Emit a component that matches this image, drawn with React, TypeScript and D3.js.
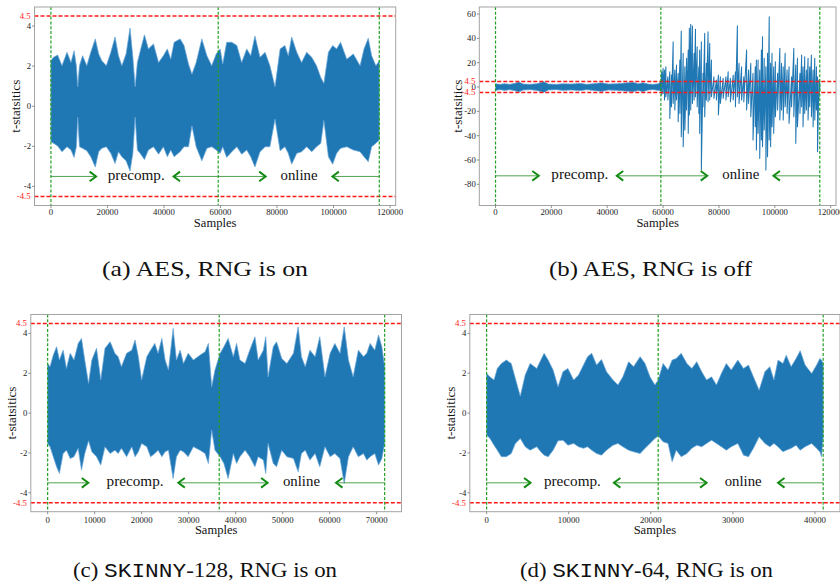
import React, { useEffect } from "react";
import * as d3 from "d3";

// ---------- (a) AES, RNG on ----------
const aesOnSamples = [0, 900, 2400, 3900, 5700, 7100, 8200, 9000, 9500, 10100, 11200, 12700, 14100, 15700, 16900, 18000, 19600, 21200, 22700, 23900, 25100, 26600, 28000, 29000, 29800, 30600, 31800, 33100, 34500, 36300, 38100, 39800, 41200, 42400, 43600, 45700, 47100, 48700, 49900, 51400, 53400, 55200, 56900, 58500, 59900, 60800, 62200, 64000, 65800, 67500, 69300, 70700, 72200, 74000, 75800, 77500, 79300, 81100, 82800, 84000, 85200, 87000, 88700, 90500, 92300, 94000, 95500, 96600, 98200, 99700, 101100, 102500, 104700, 107000, 109400, 110800, 112300, 113500, 115000, 116200];
const aesOnUpper = [2.27, 2.44, 2.55, 2.02, 2.69, 2.18, 2.77, 2.02, 0.97, 2.02, 2.52, 2.02, 2.69, 3.36, 2.61, 2.27, 2.02, 2.69, 3.45, 2.52, 2.02, 2.61, 3.9, 2.44, 0.97, 2.18, 2.86, 3.56, 2.86, 3.11, 2.18, 2.52, 2.86, 2.35, 3.19, 3.36, 3.03, 2.1, 1.6, 2.18, 3.36, 2.52, 2.02, 2.61, 2.86, 2.1, 3.19, 3.19, 3.03, 2.18, 2.86, 2.52, 3.5, 2.44, 2.69, 2.02, 0.97, 2.86, 3.03, 2.52, 3.45, 2.69, 2.18, 2.69, 2.44, 2.02, 1.43, 1.14, 2.69, 3.03, 2.86, 3.19, 2.35, 2.61, 2.02, 2.86, 3.39, 2.52, 2.02, 2.27];
const aesOnLower = [-1.76, -1.85, -1.98, -2.27, -2.02, -2.18, -2.55, -2.02, -0.54, -2.02, -2.1, -2.22, -2.52, -3.03, -2.27, -2.1, -2.02, -2.35, -2.86, -2.27, -2.52, -2.72, -3.23, -2.35, -0.54, -2.18, -2.39, -2.66, -2.18, -2.02, -2.39, -2.02, -2.52, -2.18, -2.52, -2.27, -2.02, -2.02, -0.97, -2.02, -2.72, -2.1, -2.02, -2.18, -2.35, -2.02, -2.55, -2.27, -2.02, -2.39, -2.18, -2.52, -3.03, -2.27, -2.02, -2.02, -0.64, -2.22, -2.02, -2.35, -2.89, -2.35, -2.27, -2.02, -2.27, -2.02, -1.85, -0.71, -2.52, -2.89, -2.35, -2.1, -2.02, -2.18, -2.27, -2.52, -2.77, -2.02, -1.85, -1.68];
const aesOnPhases = [0, 59200, 116200];
const aesOnArrowMarks = [16000, 30200, 43400, 76000, 87800, 99600];

// ---------- (b) AES, RNG off ----------
// the first 27 points cover the precomputation band, the rest the online spikes
const aesOffSamples = [0, 1600, 3300, 5100, 6900, 8400, 9900, 12300, 14700, 17300, 18900, 21900, 24200, 27200, 30200, 32600, 35000, 38000, 40400, 43400, 46300, 49300, 51100, 52700, 54700, 56500, 58300,
  59100, 59500, 60000, 60500, 61000, 61700, 62400, 63000, 63600, 64200, 64800, 65400, 66000, 66500, 67200, 67800, 68400, 69000, 69400, 69900, 70500, 71100, 71600, 72200, 72800, 73100, 73700, 74300, 74900, 75500, 76100, 76700, 77300, 78200, 79100, 79800, 80500, 81500, 82500, 83300, 84100, 85100, 85900, 86600, 87200, 88100, 88900, 89900, 90600, 91400, 92200, 93000, 93400, 94000, 94600, 95200, 95600, 96200, 96800, 97400, 98000, 98500, 99000, 99600, 100200, 101000, 101800, 102400, 103000, 103700, 104400, 105100, 106000, 106800, 107500, 108100, 109000, 109600, 110100, 110700, 111300, 111900, 112500, 113100, 113700, 114300, 114900, 115300, 115800, 116100];
const aesOffUpper = [2.75, 2.2, 2.75, 2.2, 3.03, 4.13, 2.48, 2.2, 2.75, 4.4, 2.48, 2.2, 2.75, 2.48, 3.03, 2.2, 2.75, 3.58, 2.48, 2.75, 3.3, 3.85, 2.75, 3.58, 2.48, 2.2, 2.75,
  4.38, 12.6, 15.35, 13.97, 16.71, 8.49, 12.6, 9.86, 37.27, 13.97, 18.08, 11.23, 22.2, 46.03, 27.68, 16.71, 23.57, 30.42, 48.23, 51.52, 50.15, 27.68, 47.41, 33.16, 16.71, 30.42, 37.27, 11.23, 44.12, 19.45, 45.49, 35.9, 22.2, 8.49, 5.75, 9.86, 8.49, 7.12, 8.49, 12.6, 7.12, 9.86, 12.6, 50.42, 19.45, 16.71, 8.49, 30.42, 13.97, 19.45, 11.23, 16.71, 22.2, 22.2, 13.97, 30.42, 41.38, 23.57, 16.71, 27.68, 57.82, 19.45, 27.68, 16.71, 20.82, 11.23, 31.79, 19.45, 16.71, 27.68, 13.97, 16.71, 8.49, 31.79, 18.08, 23.57, 11.23, 26.31, 16.71, 24.93, 13.97, 23.57, 16.71, 26.31, 13.97, 23.57, 16.71, 8.49, 5.75, 4.38];
const aesOffLower = [-2.75, -2.2, -2.75, -2.2, -3.03, -4.13, -2.48, -2.2, -2.75, -4.4, -2.48, -2.2, -2.75, -2.48, -3.03, -2.2, -2.75, -3.58, -2.48, -2.75, -3.3, -3.85, -2.75, -3.85, -2.48, -2.2, -2.75,
  -3.02, -6.58, -5.21, -10.69, -7.95, -10.69, -25.76, -16.17, -13.43, -18.91, -10.69, -28.5, -21.65, -40.83, -49.05, -35.35, -18.91, -38.09, -23.02, -18.91, -13.43, -10.69, -7.95, -16.17, -21.65, -38.09, -68.23, -16.17, -24.39, -10.69, -12.06, -10.69, -7.95, -9.32, -10.69, -23.02, -13.43, -9.32, -10.69, -7.95, -12.06, -10.69, -16.17, -7.95, -13.43, -10.69, -12.06, -18.91, -13.43, -24.39, -43.57, -32.61, -51.79, -38.09, -58.64, -43.57, -49.05, -35.35, -68.23, -57.27, -43.57, -49.05, -32.61, -38.09, -24.39, -18.91, -27.13, -18.91, -27.13, -16.17, -21.65, -29.87, -16.17, -24.39, -46.31, -32.61, -21.65, -16.17, -32.61, -21.65, -18.91, -27.13, -16.17, -24.39, -32.61, -27.13, -18.91, -53.16, -10.69, -3.84];
const aesOffPhases = [0, 59200, 116100];
const aesOffArrowMarks = [15500, 30200, 43400, 75800, 87800, 99500];
const aesOffOnlineStart = 27;

// ---------- (c) SKINNY-128, RNG on ----------
const skinny128Samples = [0, 500, 1200, 1900, 2500, 3300, 4000, 4800, 5600, 6500, 7200, 7900, 8700, 9400, 10400, 11300, 12200, 13300, 14300, 15000, 15700, 16800, 17900, 18600, 19300, 20000, 21100, 21900, 22800, 23500, 24300, 25000, 25700, 26700, 27400, 28200, 28900, 29900, 31000, 32400, 33500, 34200, 34900, 35600, 36700, 37500, 38400, 39500, 40200, 40900, 42000, 43000, 44100, 44800, 45900, 46400, 46900, 48000, 48700, 49800, 50900, 52300, 53300, 54000, 54800, 55800, 56900, 57900, 59000, 60100, 61100, 62200, 63100, 64000, 65000, 66100, 67200, 67900, 68600, 69600, 70400, 71100, 71700];
const skinny128Upper = [2.49, 2.33, 2.91, 3.33, 2.66, 3.16, 2.24, 3.0, 2.66, 3.5, 3.75, 2.66, 1.49, 2.66, 3.25, 1.66, 3.25, 3.58, 3.0, 2.83, 2.33, 3.0, 3.16, 3.67, 2.83, 1.66, 2.83, 3.16, 3.5, 3.0, 3.75, 2.66, 2.16, 4.25, 2.66, 3.16, 2.49, 3.0, 2.66, 2.91, 3.08, 3.5, 1.32, 2.16, 3.0, 3.33, 3.75, 2.83, 3.5, 2.66, 2.49, 3.16, 3.83, 2.66, 3.16, 3.83, 1.82, 3.33, 3.58, 2.74, 2.49, 3.0, 4.33, 2.83, 2.33, 3.16, 2.83, 3.83, 1.82, 3.0, 3.5, 3.0, 4.33, 2.66, 1.82, 3.16, 2.83, 3.0, 3.5, 3.16, 3.92, 3.33, 2.33];
const skinny128Lower = [-1.52, -1.69, -2.19, -2.69, -3.03, -2.03, -1.86, -2.28, -2.19, -1.77, -2.86, -2.03, -1.39, -1.94, -2.19, -2.61, -1.69, -2.03, -1.86, -2.03, -1.77, -2.19, -1.69, -2.19, -1.94, -1.52, -1.69, -2.19, -2.03, -1.86, -2.19, -1.94, -1.86, -3.28, -2.19, -1.86, -1.94, -2.19, -1.69, -1.86, -2.03, -2.53, -0.85, -1.86, -2.19, -2.53, -3.28, -2.03, -2.53, -2.19, -1.86, -2.19, -2.69, -2.19, -2.36, -3.03, -1.52, -2.53, -2.69, -1.86, -2.19, -2.28, -2.95, -2.03, -1.86, -2.36, -2.03, -2.69, -1.69, -2.19, -2.03, -2.28, -3.53, -2.19, -1.69, -2.19, -2.03, -2.36, -2.19, -2.03, -2.61, -2.28, -1.52];
const skinny128Phases = [0, 36500, 71700];
const skinny128ArrowMarks = [8650, 18600, 27800, 46800, 54000, 61350];

// ---------- (d) SKINNY-64, RNG on ----------
const skinny64Samples = [0, 400, 900, 1300, 1800, 2400, 3000, 3500, 4100, 4700, 5300, 6100, 6600, 7000, 7500, 8100, 8700, 9300, 9900, 10600, 11200, 11800, 12300, 12800, 13400, 14000, 14600, 15400, 16000, 16600, 17300, 17900, 18700, 19300, 19900, 20500, 20900, 21500, 22100, 22600, 23100, 23700, 24400, 25000, 25600, 26200, 26800, 27400, 28000, 28600, 29200, 29800, 30600, 31300, 31900, 32500, 33200, 33900, 34500, 35000, 35500, 36100, 36500, 37100, 37700, 38200, 38800, 39600, 40200, 40600, 40800, 41000];
const skinny64Upper = [1.99, 1.82, 1.66, 2.24, 2.49, 2.66, 2.49, 1.74, 0.85, 1.91, 2.49, 2.24, 2.66, 3.0, 2.66, 2.16, 1.32, 2.08, 2.24, 1.66, 1.91, 2.41, 2.83, 3.0, 2.41, 2.69, 2.08, 1.66, 1.41, 1.82, 2.58, 2.33, 2.83, 2.49, 1.82, 1.41, 1.66, 2.49, 2.16, 2.66, 2.74, 3.0, 2.49, 2.24, 2.58, 2.08, 1.66, 1.82, 1.41, 1.99, 2.49, 2.16, 2.66, 2.24, 2.41, 1.82, 1.15, 2.08, 2.33, 1.66, 2.66, 2.49, 2.91, 2.33, 2.74, 3.13, 2.41, 1.99, 2.41, 2.74, 2.66, 2.49];
const skinny64Lower = [-1.1, -1.27, -1.61, -1.86, -2.19, -2.19, -2.03, -1.52, -1.27, -1.69, -1.86, -1.69, -1.94, -2.11, -2.19, -1.86, -1.39, -1.36, -1.61, -1.52, -1.69, -1.77, -1.69, -1.86, -2.03, -2.11, -1.86, -1.61, -1.52, -1.69, -1.86, -1.94, -2.03, -1.77, -1.52, -1.27, -1.15, -1.44, -1.52, -2.44, -1.86, -2.19, -2.03, -1.77, -1.61, -1.69, -1.52, -1.36, -1.52, -1.69, -1.86, -1.69, -1.52, -2.11, -2.19, -1.77, -1.19, -1.52, -1.69, -1.52, -1.69, -1.94, -1.86, -1.77, -1.61, -1.86, -1.69, -1.52, -1.77, -1.94, -2.19, -1.19];
const skinny64Phases = [0, 20900, 41000];
const skinny64ArrowMarks = [5350, 10450, 15500, 26800, 31250, 35500];

// ---------- axes ----------
const xTicksAes = [0, 20000, 40000, 60000, 80000, 100000, 120000];
const xTicksSkinny128 = [0, 10000, 20000, 30000, 40000, 50000, 60000, 70000];
const xTicksSkinny64 = [0, 10000, 20000, 30000, 40000];
const yTicksSmall = [-4, -2, 0, 2, 4];
const yTicksWide = [-80, -60, -40, -20, 0, 20, 40, 60];
const thresholds = [4.5, -4.5];
const phaseLabels = ["precomp.", "online"];

const SERIF = "'Liberation Serif', 'Times New Roman', serif";
const MONO = "'Liberation Mono', 'DejaVu Sans Mono', monospace";
const BLUE = "#1f77b4";
const GREEN = "#22a022";
const ARROW_GREEN = "#108a10";
const RED = "#ff1a1a";
const FRAME = "#a3a3a3";

type Box = { left: number; right: number; top: number; bottom: number };

type PanelProps = {
  id: string;
  box: Box;
  xDomain: [number, number];
  yDomain: [number, number];
  xTicks: number[];
  yTicks: number[];
  samples: number[];
  upper: number[];
  lower: number[];
  phases: number[];
  marks: number[];
  arrowY: number;
  xTickBaseline: number;
  xTitleBaseline: number;
  yTitleX: number;
  // index from which the trace is drawn as individual min/max strokes instead of a band
  strokeFrom?: number;
};

const fmt = (t: number) => (t < 0 ? `-${Math.abs(t)}` : `${t}`);

function Panel(p: PanelProps) {
  const { box } = p;
  const x = d3.scaleLinear().domain(p.xDomain).range([box.left, box.right]);
  const y = d3.scaleLinear().domain(p.yDomain).range([box.bottom, box.top]);
  const n = p.samples.length;
  const split = p.strokeFrom ?? n;

  const idx = d3.range(Math.min(split + 1, n));
  const band = d3
    .area<number>()
    .x((i) => x(p.samples[i]))
    .y0((i) => y(p.lower[i]))
    .y1((i) => y(p.upper[i]));

  // min/max strokes: vertical extent at each sample, joined to the next sample
  const strokePts: [number, number][] = [];
  for (let i = split; i < n; i++) {
    strokePts.push([x(p.samples[i]), y(p.upper[i])]);
    strokePts.push([x(p.samples[i]), y(p.lower[i])]);
  }
  const strokeLine = d3.line();

  const ay = y(p.arrowY);
  const [start, , end] = p.phases;
  const [tip1, label1, tip2a, tip2b, label2, tip3] = p.marks;
  const head = (tx: number, dir: number) =>
    `M${tx - dir * 6.5},${ay - 4.8}L${tx},${ay}L${tx - dir * 6.5},${ay + 4.8}`;
  const midY = (box.top + box.bottom) / 2;
  const midX = (box.left + box.right) / 2;

  return (
    <g>
      <defs>
        <clipPath id={`clip-${p.id}`}>
          <rect x={box.left} y={box.top} width={box.right - box.left} height={box.bottom - box.top} />
        </clipPath>
      </defs>

      <g clipPath={`url(#clip-${p.id})`}>
        <path d={band(idx) ?? ""} fill={BLUE} stroke="#6aa6d8" strokeWidth={0.7} strokeLinejoin="round" />
        {strokePts.length > 1 && (
          <path d={strokeLine(strokePts) ?? ""} fill="none" stroke={BLUE} strokeWidth={1.05} strokeLinejoin="round" />
        )}
      </g>

      {thresholds.map((t) => (
        <line key={`th${t}`} x1={box.left} x2={box.right} y1={y(t)} y2={y(t)} stroke={RED} strokeWidth={1.4} strokeDasharray="4,2" />
      ))}

      {p.phases.map((s) => (
        <line key={`ph${s}`} x1={x(s)} x2={x(s)} y1={box.top} y2={box.bottom} stroke={GREEN} strokeWidth={1.2} strokeDasharray="3,1.8" />
      ))}

      {/* phase arrows */}
      <g fill="none">
        <line x1={x(start)} x2={x(tip1)} y1={ay} y2={ay} stroke="#3a9a3a" strokeWidth={0.9} />
        <path d={head(x(tip1), 1)} stroke={ARROW_GREEN} strokeWidth={1.9} />
        <line x1={x(tip2a)} x2={x(tip2b)} y1={ay} y2={ay} stroke="#3a9a3a" strokeWidth={0.9} />
        <path d={head(x(tip2a), -1)} stroke={ARROW_GREEN} strokeWidth={1.9} />
        <path d={head(x(tip2b), 1)} stroke={ARROW_GREEN} strokeWidth={1.9} />
        <line x1={x(tip3)} x2={x(end)} y1={ay} y2={ay} stroke="#3a9a3a" strokeWidth={0.9} />
        <path d={head(x(tip3), -1)} stroke={ARROW_GREEN} strokeWidth={1.9} />
      </g>
      <text x={x(label1)} y={ay + 3.5} textAnchor="middle" fontFamily={SERIF} fontSize={15} fill="#111" textLength={57} lengthAdjust="spacingAndGlyphs">
        {phaseLabels[0]}
      </text>
      <text x={x(label2)} y={ay + 3.5} textAnchor="middle" fontFamily={SERIF} fontSize={15} fill="#111" textLength={37} lengthAdjust="spacingAndGlyphs">
        {phaseLabels[1]}
      </text>

      <rect x={box.left} y={box.top} width={box.right - box.left} height={box.bottom - box.top} fill="none" stroke={FRAME} strokeWidth={1} />

      {/* x axis */}
      {p.xTicks.map((t) => (
        <g key={`x${t}`}>
          <line x1={x(t)} x2={x(t)} y1={box.bottom} y2={box.bottom + 2.5} stroke="#777" strokeWidth={0.8} />
          <text x={x(t)} y={p.xTickBaseline} textAnchor="middle" fontFamily={SERIF} fontSize={8.7} fill="#222">
            {t}
          </text>
        </g>
      ))}

      {/* y axis */}
      {p.yTicks.map((t) => (
        <g key={`y${t}`}>
          <line x1={box.left - 2.5} x2={box.left} y1={y(t)} y2={y(t)} stroke="#777" strokeWidth={0.8} />
          <text x={box.left - 3.5} y={y(t)} dy="0.33em" textAnchor="end" fontFamily={SERIF} fontSize={8.7} fill="#222">
            {fmt(t)}
          </text>
        </g>
      ))}
      {thresholds.map((t) => (
        <text key={`tl${t}`} x={box.left - 4} y={y(t)} dy="0.33em" textAnchor="end" fontFamily={SERIF} fontSize={8.7} fill={RED}>
          {fmt(t)}
        </text>
      ))}

      <text x={midX} y={p.xTitleBaseline} textAnchor="middle" fontFamily={SERIF} fontSize={13} fill="#111" textLength={42.5} lengthAdjust="spacingAndGlyphs">
        Samples
      </text>
      <text
        transform={`translate(${p.yTitleX},${midY}) rotate(-90)`}
        textAnchor="middle"
        fontFamily={SERIF}
        fontSize={13}
        fill="#111"
        textLength={53}
        lengthAdjust="spacingAndGlyphs"
      >
        t-statsitics
      </text>
    </g>
  );
}

export default function App() {
  useEffect(() => {
    document.body.style.margin = "0";
  }, []);

  return (
    <svg width={840} height={587} style={{ position: "absolute", left: 0, top: 0, background: "#fff" }}>
      <rect width={840} height={587} fill="#fff" />
      <Panel
        id="a"
        box={{ left: 34.5, right: 395.7, top: 7, bottom: 205.5 }}
        xDomain={[-5810, 122010]}
        yDomain={[-4.95, 4.95]}
        xTicks={xTicksAes}
        yTicks={yTicksSmall}
        samples={aesOnSamples}
        upper={aesOnUpper}
        lower={aesOnLower}
        phases={aesOnPhases}
        marks={aesOnArrowMarks}
        arrowY={-3.5}
        xTickBaseline={215}
        xTitleBaseline={226.5}
        yTitleX={20}
      />
      <Panel
        id="b"
        box={{ left: 479.3, right: 836, top: 7, bottom: 205.5 }}
        xDomain={[-5805, 121905]}
        yDomain={[-97.4, 65.8]}
        xTicks={xTicksAes}
        yTicks={yTicksWide}
        samples={aesOffSamples}
        upper={aesOffUpper}
        lower={aesOffLower}
        phases={aesOffPhases}
        marks={aesOffArrowMarks}
        arrowY={-73}
        xTickBaseline={215}
        xTitleBaseline={226.5}
        yTitleX={461.5}
        strokeFrom={aesOffOnlineStart}
      />
      <Panel
        id="c"
        box={{ left: 30.8, right: 401.5, top: 314.5, bottom: 511.7 }}
        xDomain={[-3585, 75285]}
        yDomain={[-4.95, 4.95]}
        xTicks={xTicksSkinny128}
        yTicks={yTicksSmall}
        samples={skinny128Samples}
        upper={skinny128Upper}
        lower={skinny128Lower}
        phases={skinny128Phases}
        marks={skinny128ArrowMarks}
        arrowY={-3.5}
        xTickBaseline={522.5}
        xTitleBaseline={533.5}
        yTitleX={15.5}
      />
      <Panel
        id="d"
        box={{ left: 469.8, right: 840, top: 314.5, bottom: 511.7 }}
        xDomain={[-2050, 43050]}
        yDomain={[-4.95, 4.95]}
        xTicks={xTicksSkinny64}
        yTicks={yTicksSmall}
        samples={skinny64Samples}
        upper={skinny64Upper}
        lower={skinny64Lower}
        phases={skinny64Phases}
        marks={skinny64ArrowMarks}
        arrowY={-3.5}
        xTickBaseline={522.5}
        xTitleBaseline={533.5}
        yTitleX={455}
      />

      {/* sub-figure captions */}
      <g fontFamily={SERIF} fontSize={21} fill="#111">
        <text x={102} y={276} textLength={206} lengthAdjust="spacingAndGlyphs">(a) AES, RNG is on</text>
        <text x={549} y={276} textLength={203} lengthAdjust="spacingAndGlyphs">(b) AES, RNG is off</text>
        <text x={73} y={577} textLength={264} lengthAdjust="spacingAndGlyphs">
          (c) <tspan fontFamily={MONO}>SKINNY</tspan>-128, RNG is on
        </text>
        <text x={520} y={577} textLength={253} lengthAdjust="spacingAndGlyphs">
          (d) <tspan fontFamily={MONO}>SKINNY</tspan>-64, RNG is on
        </text>
      </g>
    </svg>
  );
}
